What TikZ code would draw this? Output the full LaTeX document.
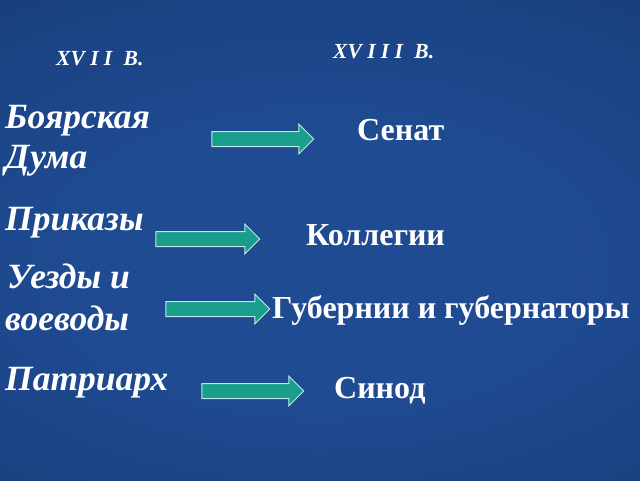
\documentclass[tikz,border=0pt]{standalone}
\usepackage{fontspec}
\setmainfont{Liberation Serif}
\usetikzlibrary{shapes.arrows}
\definecolor{bgc}{HTML}{1F4B92}
\definecolor{bgq}{HTML}{1A4181}
\definecolor{bgm}{HTML}{123261}
\definecolor{bge}{HTML}{0B2749}
\definecolor{bgo}{HTML}{091F3B}
\definecolor{arrfill}{HTML}{1A9E8C}
\definecolor{arredge}{HTML}{BFE8E6}
\pgfdeclareradialshading{bgshade}{\pgfpoint{0bp}{-3bp}}{color(0bp)=(bgc); color(14bp)=(bgc); color(30bp)=(bgq); color(40bp)=(bgm); color(50bp)=(bge); color(71bp)=(bgo)}
\begin{document}
\begin{tikzpicture}[x=1pt,y=-1pt,
 lefttext/.style={anchor=base west, inner sep=0pt, text=white, font=\fontsize{35.5}{40}\selectfont\bfseries\itshape},
 righttext/.style={anchor=base west, inner sep=0pt, text=white, font=\fontsize{32}{38}\selectfont\bfseries},
 headtext/.style={anchor=base west, inner sep=0pt, text=white, font=\fontsize{21.5}{24}\selectfont\bfseries\itshape},
 blockarrow/.style={single arrow, draw=arredge, fill=arrfill, line width=1pt, inner sep=7pt,
   single arrow head extend=7.5pt, single arrow tip angle=90, single arrow head indent=0pt}
]
\useasboundingbox (0,0) rectangle (640,480);
\begin{scope}
\clip (0,0) rectangle (640,480);
\shade[shading=bgshade] (-120,0) rectangle (760,480);
\end{scope}
% headers
\node[headtext] (h1) at (56,65) {XV I I \kern6pt В.};
\node[headtext] (h2) at (333,58) {XV I I I \kern6pt В.};
% left column
\node[lefttext] (l1a) at (5,128) {Боярская};
\node[lefttext] (l1b) at (5,168) {Дума};
\node[lefttext] (l2) at (5,230) {Приказы};
\node[lefttext] (l3a) at (7,288) {Уезды и};
\node[lefttext] (l3b) at (5,330) {воеводы};
\node[lefttext] (l4) at (5,390) {Патриарх};
% right column
\node[righttext] (r1) at (357,140) {Сенат};
\node[righttext] (r2) at (306,245) {Коллегии};
\node[righttext] (r3) at (272,318) {Губернии и губернаторы};
\node[righttext] (r4) at (334,398) {Синод};
% arrows
\node[blockarrow, minimum height=102pt] (a1) at (259,139) {};
\node[blockarrow, minimum height=104pt] (a2) at (204,239) {};
\node[blockarrow, minimum height=104pt] (a3) at (214,309) {};
\node[blockarrow, minimum height=102pt] (a4) at (249,391) {};
\end{tikzpicture}
\end{document}
